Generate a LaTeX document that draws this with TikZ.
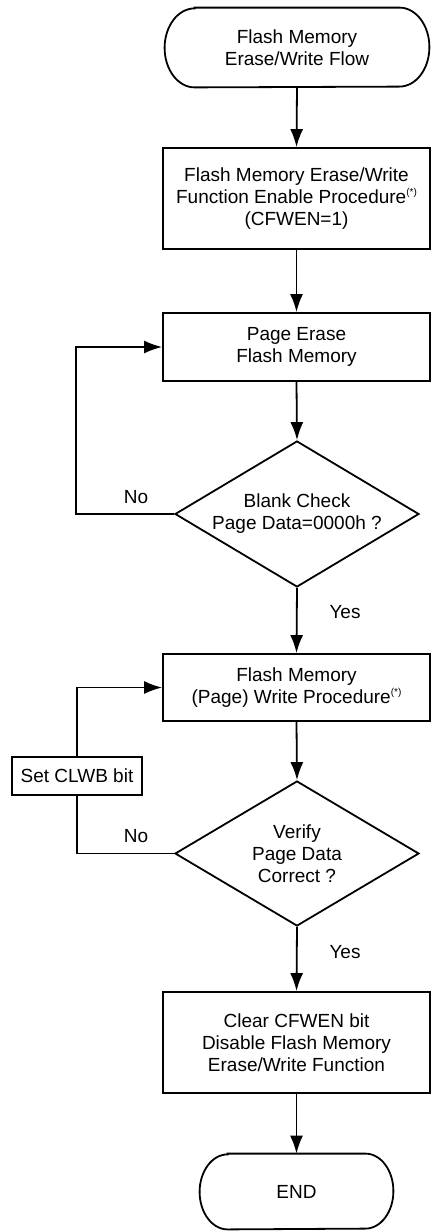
\documentclass[tikz,border=0pt]{standalone}
\usepackage{fontspec}
\setmainfont{Liberation Sans}
\usetikzlibrary{arrows.meta,shapes.geometric}

\begin{document}
\begin{tikzpicture}[x=0.5pt,y=-0.5pt,
  every node/.style={font=\fontsize{9.5}{11}\selectfont,text=black,align=center},
  box/.style={draw=black,line width=0.9pt,minimum width=133.5pt,inner sep=0pt},
  dec/.style={draw=black,line width=0.9pt,diamond,aspect=1.67,inner sep=0pt,minimum width=122pt,minimum height=73pt},
  term/.style={inner sep=0pt},
  line/.style={draw=black,line width=0.9pt},
  arrow/.style={line,-{Latex[length=9pt,width=6.5pt]}},
  lbl/.style={inner sep=0pt}]

\useasboundingbox (0,0) rectangle (432,1231);

% terminals:
\node[term,minimum width=132pt,minimum height=39.5pt] (start) at (297,47.5) {Flash Memory\\Erase/Write Flow};
\draw[line] ([xshift=15pt]start.north west) -- ([xshift=-15pt]start.north east)
  arc[start angle=90,end angle=-90,x radius=15pt,y radius=19.75pt]
  -- ([xshift=15pt]start.south west)
  arc[start angle=270,end angle=90,x radius=15pt,y radius=19.75pt] -- cycle;
\node[term,minimum width=96.5pt,minimum height=37.5pt] (end) at (296.5,1191.5) {END};
\draw[line] ([xshift=14pt]end.north west) -- ([xshift=-14pt]end.north east)
  arc[start angle=90,end angle=-90,x radius=14pt,y radius=18.75pt]
  -- ([xshift=14pt]end.south west)
  arc[start angle=270,end angle=90,x radius=14pt,y radius=18.75pt] -- cycle;

% process boxes:
\node[box,minimum height=50.5pt] (enable) at (296.5,198.5) {Flash Memory Erase/Write\\Function Enable Procedure\raisebox{4pt}{\fontsize{5}{5}\selectfont(*)}\\(CFWEN=1)};
\node[box,minimum height=34pt] (erase) at (296.5,347) {Page Erase\\Flash Memory};
\node[box,minimum height=33.5pt] (write) at (296.5,687.5) {Flash Memory\\(Page) Write Procedure\raisebox{4pt}{\fontsize{5}{5}\selectfont(*)}};
\node[box,minimum height=50.5pt] (clear) at (296.5,1042.5) {Clear CFWEN bit\\Disable Flash Memory\\Erase/Write Function};
\node[box,minimum width=65pt,minimum height=19pt] (clwb) at (77,776) {Set CLWB bit};

% decisions:
\node[dec] (blank) at (297,514) {Blank Check\\Page Data=0000h ?};
\node[dec,minimum height=72.5pt] (verify) at (297,853.5) {Verify\\Page Data\\Correct ?};

% labels:
\node[lbl] (no1) at (136,497) {No};
\node[lbl] (yes1) at (345,612) {Yes};
\node[lbl] (no2) at (136,836) {No};
\node[lbl] (yes2) at (345,952) {Yes};

% connectors:
\draw[arrow] (start.south) -- (enable.north);
\draw[arrow] (enable.south) -- (erase.north);
\draw[arrow] (erase.south) -- (blank.north);
\draw[arrow] (blank.west) -- ++(-98,0) |- (erase.west);
\draw[arrow] (blank.south) -- (write.north);
\draw[arrow] (write.south) -- (verify.north);
\draw[line] (verify.west) -| (clwb.south);
\draw[arrow] (clwb.north) |- (write.west);
\draw[arrow] (verify.south) -- (clear.north);
\draw[arrow] (clear.south) -- (end.north);

\end{tikzpicture}
\end{document}
